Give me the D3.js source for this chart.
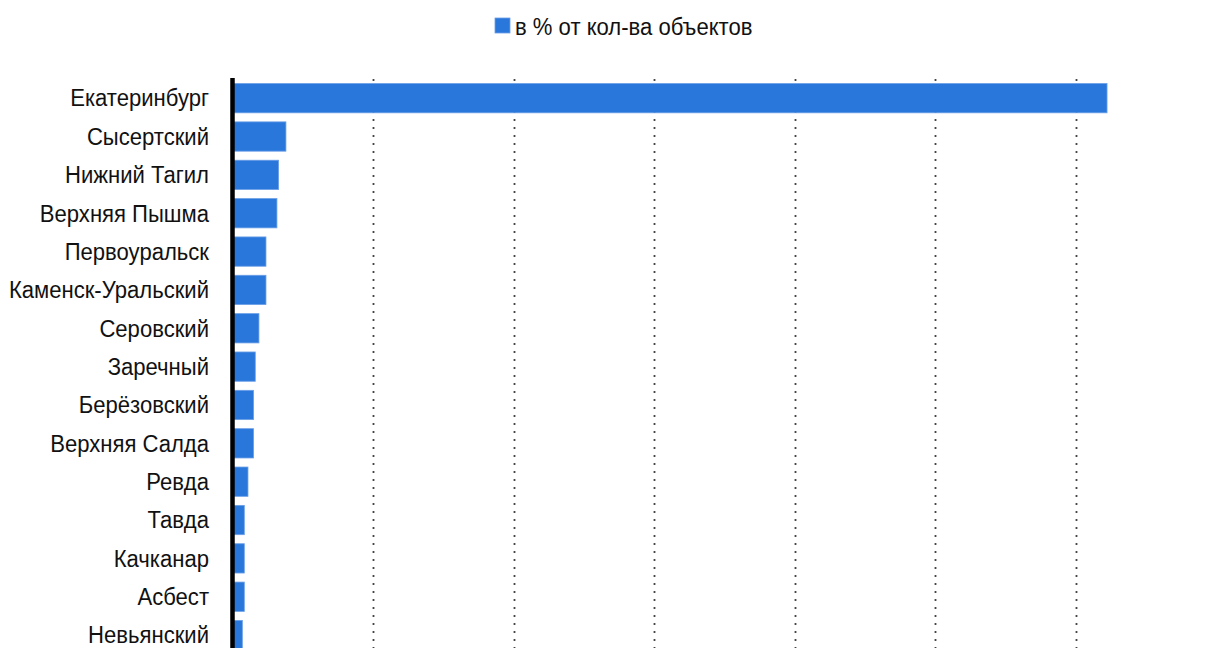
<!DOCTYPE html>
<html>
<head>
<meta charset="utf-8">
<script src="https://d3js.org/d3.v7.min.js"></script>
<style>
  body { margin: 0; background: #fff; }
  svg text { font-family: "Liberation Sans", Arial, sans-serif; fill: #111; }
</style>
</head>
<body>
<svg id="chartsvg"></svg>
<script>
// categories and values (% of objects)
var cities = ["Екатеринбург", "Сысертский", "Нижний Тагил", "Верхняя Пышма", "Первоуральск",
	"Каменск-Уральский", "Серовский", "Заречный", "Берёзовский", "Верхняя Салда",
	"Ревда", "Тавда", "Качканар", "Асбест", "Невьянский"];
var shares = [31.1, 1.9, 1.64, 1.58, 1.19, 1.19, 0.94, 0.81, 0.75, 0.75, 0.55, 0.42, 0.42, 0.42, 0.35];
var gridTicks = [5, 10, 15, 20, 25, 30];
var seriesName = "в % от кол-ва объектов";

var W = 1209, H = 648;
var barColor = "#2a77dc";
var plotTop = 77;
var rowStep = 38.35;

var svg = d3.select("#chartsvg").attr("width", W).attr("height", H);

var x = d3.scaleLinear().domain([0, 35]).range([232.5, 232.5 + 7 * 140.6]);
var y = d3.scaleBand().domain(cities)
	.range([plotTop + 2, plotTop + 2 + cities.length * rowStep])
	.paddingInner(0.236).paddingOuter(0.118);

//dotted vertical gridlines
svg.append("g").selectAll("line").data(gridTicks).join("line")
	.attr("x1", function(d) { return Math.round(x(d)) + 0.5; })
	.attr("x2", function(d) { return Math.round(x(d)) + 0.5; })
	.attr("y1", plotTop + 2).attr("y2", H)
	.attr("stroke", "#444").attr("stroke-width", 1.8)
	.attr("stroke-dasharray", "2,6");

//bars
svg.append("g").selectAll("rect").data(shares).join("rect")
	.attr("x", x(0))
	.attr("y", function(d, i) { return y(cities[i]); })
	.attr("width", function(d) { return x(d) - x(0); })
	.attr("height", y.bandwidth())
	.attr("fill", barColor)
	.attr("stroke", "#6b9fe6").attr("stroke-width", 0.8);

//category axis: thick black line
svg.append("line")
	.attr("x1", x(0)).attr("x2", x(0))
	.attr("y1", plotTop + 1).attr("y2", H)
	.attr("stroke", "#000").attr("stroke-width", 4.5);

//labels, slightly condensed like the original
var lab = svg.append("g");
lab.selectAll("text").data(cities).join("text")
	.attr("transform", function(d) { return "translate(209," + (y(d) + y.bandwidth() / 2) + ") scale(0.96,1)"; })
	.attr("text-anchor", "end")
	.attr("dy", "0.36em")
	.style("font-size", "23px")
	.text(function(d) { return d; });

//legend
var leg = svg.append("g");
leg.append("rect").attr("x", 495).attr("y", 18).attr("width", 15).attr("height", 15)
	.attr("fill", barColor).attr("stroke", "#6b9fe6").attr("stroke-width", 0.8);
leg.append("text")
	.attr("transform", "translate(515,35) scale(0.96,1)")
	.style("font-size", "23px")
	.text(seriesName);
</script>
</body>
</html>
